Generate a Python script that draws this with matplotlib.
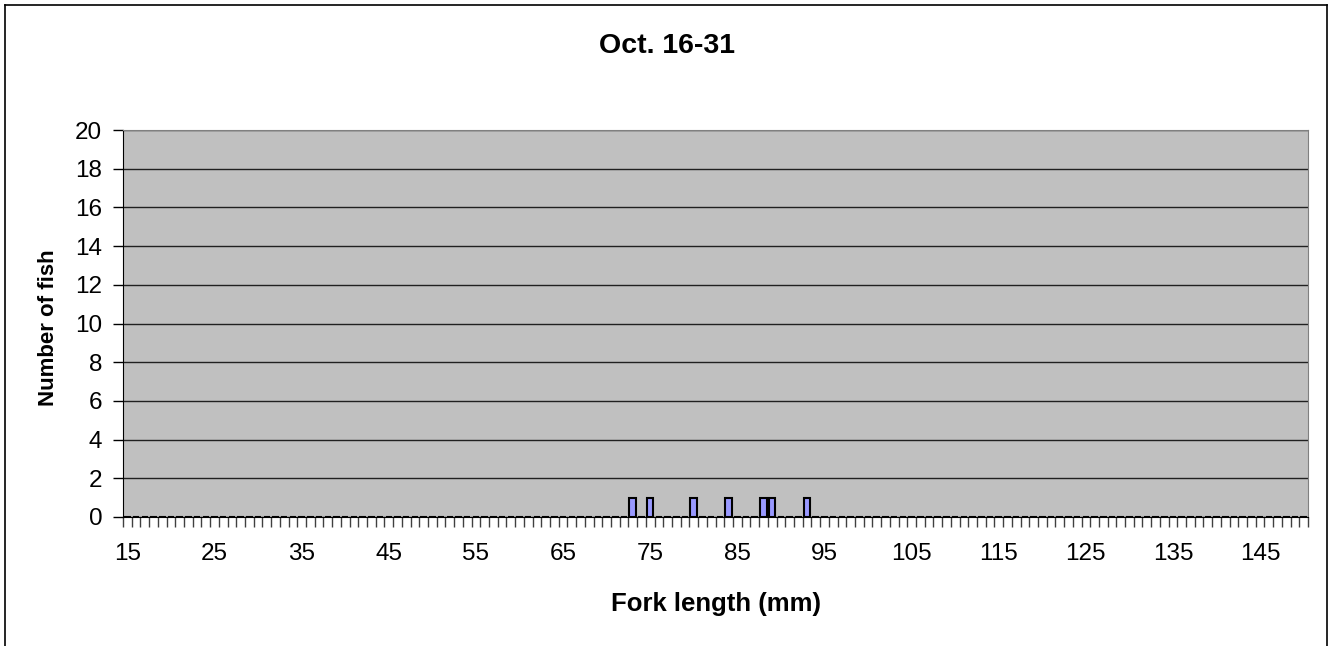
import numpy as np
import matplotlib
matplotlib.use('Agg')
import matplotlib.pyplot as plt

plt.rcParams['font.family'] = ['Liberation Sans', 'DejaVu Sans']

# Data: fork length classes 15..150 mm, counts per class
lengths = list(range(15, 151))
measured = [73, 75, 80, 84, 88, 89, 93]
measured_counts = [1, 1, 1, 1, 1, 1, 1]
counts = [measured_counts[measured.index(l)] if l in measured else 0 for l in lengths]
label_ticks = list(range(15, 146, 10))
y_ticks = list(range(0, 21, 2))

fig = plt.figure(figsize=(13.3, 6.46), dpi=100)
ax = fig.add_axes([0.0925, 0.1997, 0.891, 0.599])
ax.set_facecolor('#C0C0C0')

ax.bar(lengths, counts, width=0.75, color='#9999FF', edgecolor='black', linewidth=1.5, zorder=3)

ax.set_xlim(14.5, 150.5)
ax.set_ylim(0, 20)
ax.set_yticks(y_ticks)
ax.set_yticklabels([str(v) for v in y_ticks], fontsize=17.5)
ax.set_xticks(label_ticks)
ax.set_xticklabels([str(v) for v in label_ticks], fontsize=17.5)
ax.tick_params(axis='x', length=0, pad=19)
ax.set_xticks(np.arange(14.5, 151, 1), minor=True)
ax.tick_params(axis='x', which='minor', length=7, width=1, direction='out', color='#404040')
ax.tick_params(axis='y', length=7, width=1, direction='out', pad=8)

ax.yaxis.grid(True, color='#202020', linewidth=1, zorder=1)
ax.set_axisbelow(True)
for side in ['top', 'right']:
    ax.spines[side].set_color('#808080')
for side in ['left', 'bottom']:
    ax.spines[side].set_color('black')

ax.set_xlabel('Fork length (mm)', fontsize=18.5, fontweight='bold')
ax.xaxis.set_label_coords(0.5, -(604 - 517) / (517 - 130), transform=ax.transAxes)
ax.xaxis.label.set_va('center')
ax.set_ylabel('Number of fish', fontsize=16, fontweight='bold')
ax.yaxis.set_label_coords(-(123 - 48) / (1308 - 123), 0.49, transform=ax.transAxes)
ax.yaxis.label.set_va('center')
fig.text(667 / 1330, 1 - 46 / 646, 'Oct. 16-31', fontsize=20.5, fontweight='bold', ha='center', va='center')

# outer chart border
fig.add_artist(plt.Line2D([0.004, 0.004], [0, 0.993], color='black', linewidth=1.2))
fig.add_artist(plt.Line2D([0.998, 0.998], [0, 0.993], color='black', linewidth=1.2))
fig.add_artist(plt.Line2D([0.004, 0.998], [0.993, 0.993], color='black', linewidth=1.2))

fig.savefig('out.png', dpi=100)
